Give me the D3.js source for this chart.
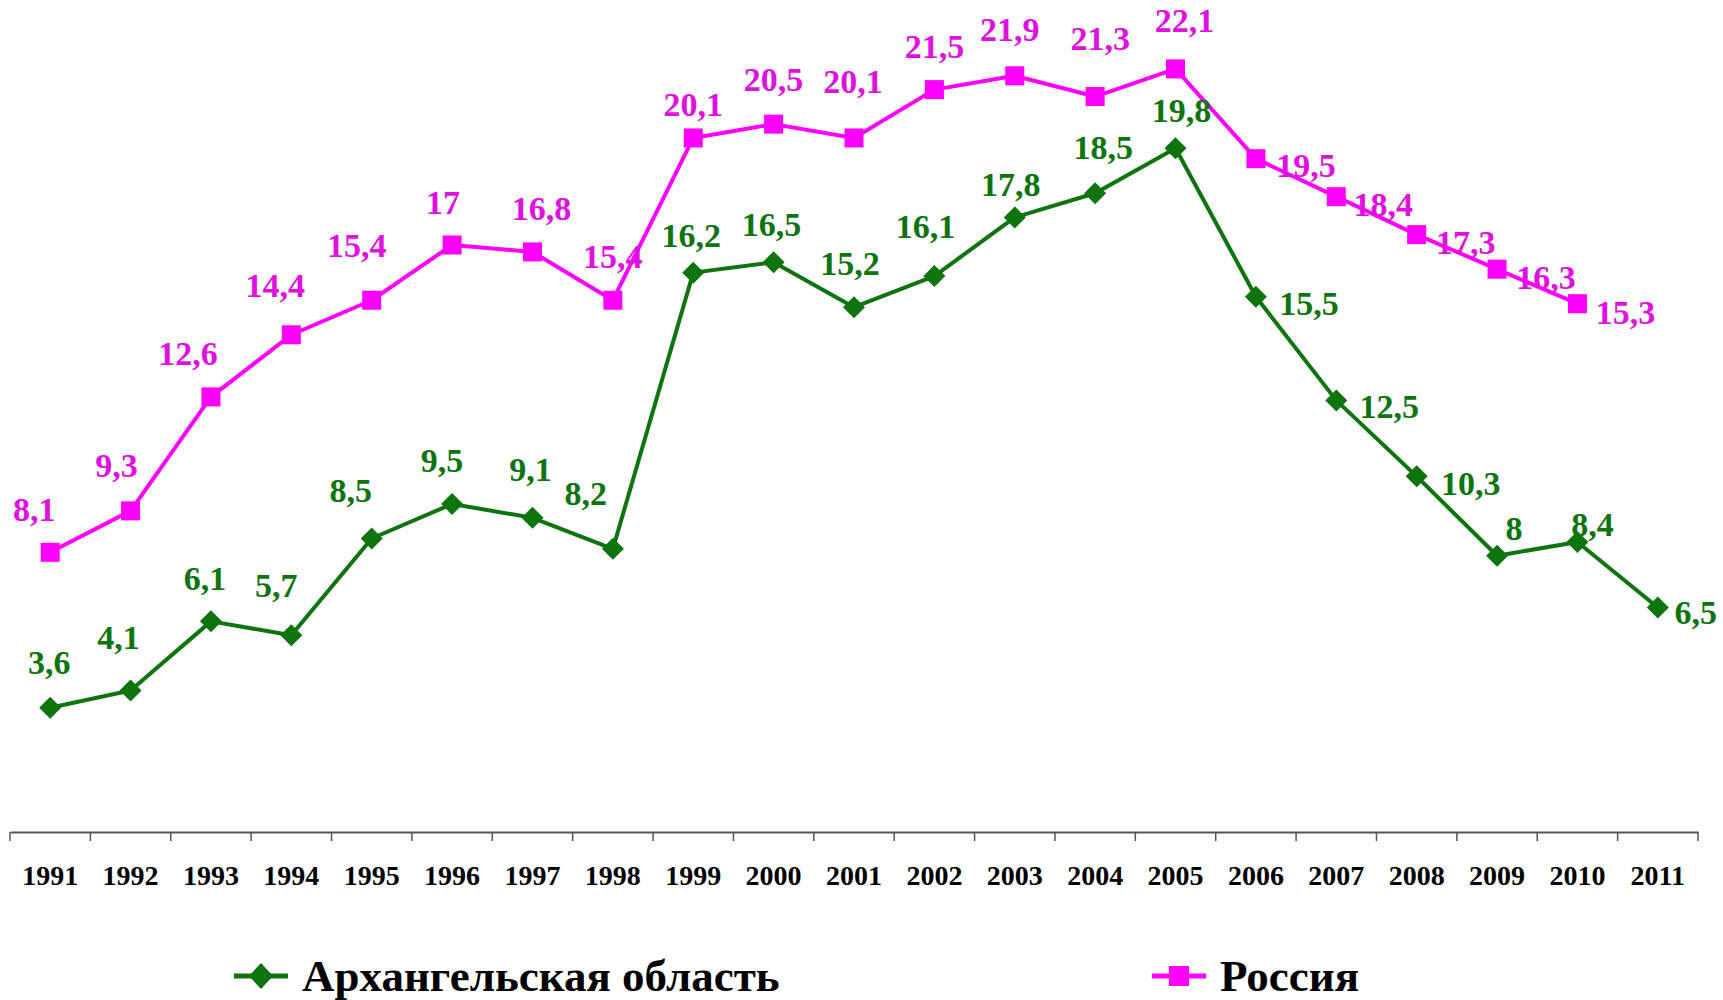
<!DOCTYPE html>
<html><head><meta charset="utf-8">
<script src="https://cdn.jsdelivr.net/npm/d3@7/dist/d3.min.js"></script>
<style>body{margin:0;background:#fff}svg{display:block}</style>
</head><body>
<svg id="c" width="1723" height="1000"></svg>
<script>
const years = ["1991","1992","1993","1994","1995","1996","1997","1998","1999","2000","2001","2002","2003","2004","2005","2006","2007","2008","2009","2010","2011"];
const arkhangelsk = [3.6,4.1,6.1,5.7,8.5,9.5,9.1,8.2,16.2,16.5,15.2,16.1,17.8,18.5,19.8,15.5,12.5,10.3,8,8.4,6.5];
const russia = [8.1,9.3,12.6,14.4,15.4,17,16.8,15.4,20.1,20.5,20.1,21.5,21.9,21.3,22.1,19.5,18.4,17.3,16.3,15.3,null];
const seriesNames = ["Архангельская область","Россия"];
// label offsets (layout only, px from marker centre)
const arkhOffsets = [[-1,-45],[-12,-53],[-6,-43],[-15,-50],[-21,-48],[-10,-43],[-2,-48],[-27,-55],[-2,-37],[-2,-38],[-4,-44],[-9,-50],[-4,-33],[8,-46],[6,-38],[53,7],[53,6],[54,7],[17,-27],[15,-17],[38,5]];
const rusOffsets = [[-16,-43],[-14,-45],[-23,-43],[-16,-49],[-15,-55],[-9,-43],[9,-43],[0,-44],[0,-33],[0,-45],[-1,-56],[0,-43],[-5,-46],[5,-58],[9,-48],[50,7],[47,8],[49,8],[49,8],[48,9],[0,0]];

const GREEN = "#0e740e", MAG = "#ff00ff", MAGTXT = "#e010e0";
const svg = d3.select("#c");
const x = d3.scaleBand().domain(years).range([10,1698]).padding(0);
const y = d3.scaleLinear().domain([0,24]).range([832,3.3]);
const cx = d => x(d) + x.bandwidth()/2;
const font = "'Liberation Serif','Times New Roman',serif";

// axis
const ax = svg.append("g").attr("transform","translate(0,832)")
  .call(d3.axisBottom(x).tickSize(0).tickPadding(0));
ax.select(".domain").attr("stroke","#555").attr("stroke-width",2);
ax.selectAll(".tick text").attr("font-family",font).attr("font-weight","bold")
  .attr("font-size",28).attr("fill","#000").attr("dy",0).attr("y",53);
const edges = years.map(d=>x(d)).concat([x.range()[1]]);
svg.append("g").selectAll("line").data(edges).join("line")
  .attr("x1",d=>d).attr("x2",d=>d).attr("y1",832).attr("y2",841)
  .attr("stroke","#555").attr("stroke-width",1.5);

function drawSeries(vals, color, txtColor, shape, offsets){
  const pts = years.map((yr,i)=>({yr, v:vals[i], o:offsets[i]})).filter(p=>p.v!=null);
  svg.append("path").datum(pts)
    .attr("d", d3.line().x(p=>cx(p.yr)).y(p=>y(p.v)))
    .attr("fill","none").attr("stroke",color).attr("stroke-width",4).attr("stroke-linejoin","round");
  const g = svg.append("g");
  if(shape==="diamond"){
    g.selectAll("path").data(pts).join("path")
      .attr("d", p=>{const X=cx(p.yr),Y=y(p.v),r=11;return `M${X},${Y-r}L${X+r},${Y}L${X},${Y+r}L${X-r},${Y}Z`;})
      .attr("fill",color);
  } else {
    g.selectAll("rect").data(pts).join("rect")
      .attr("x",p=>cx(p.yr)-9.5).attr("y",p=>y(p.v)-9.5).attr("width",19).attr("height",19)
      .attr("fill",color);
  }
  svg.append("g").selectAll("text").data(pts).join("text")
    .attr("x",p=>cx(p.yr)+p.o[0]).attr("y",p=>y(p.v)+p.o[1])
    .attr("text-anchor","middle").attr("dominant-baseline","central")
    .attr("font-family",font).attr("font-weight","bold").attr("font-size",34)
    .attr("fill",txtColor).text(p=>String(p.v).replace(".",","));
}
drawSeries(russia, MAG, MAGTXT, "square", rusOffsets);
drawSeries(arkhangelsk, GREEN, GREEN, "diamond", arkhOffsets);

// legend
const leg = [{name:seriesNames[0],color:GREEN,shape:"diamond",x:234},{name:seriesNames[1],color:MAG,shape:"square",x:1152}];
const lg = svg.append("g");
leg.forEach(l=>{
  const Y=976, mx=l.x+27;
  lg.append("line").attr("x1",l.x).attr("x2",l.x+54).attr("y1",Y).attr("y2",Y).attr("stroke",l.color).attr("stroke-width",5);
  if(l.shape==="diamond") lg.append("path").attr("d",`M${mx},${Y-13}L${mx+12},${Y}L${mx},${Y+13}L${mx-12},${Y}Z`).attr("fill",l.color);
  else lg.append("rect").attr("x",mx-10).attr("y",Y-10).attr("width",20).attr("height",20).attr("fill",l.color);
  lg.append("text").attr("x",l.x+68).attr("y",Y).attr("dominant-baseline","central")
    .attr("font-family",font).attr("font-weight","bold").attr("font-size",45).attr("fill","#000").text(l.name);
});
</script>
</body></html>
